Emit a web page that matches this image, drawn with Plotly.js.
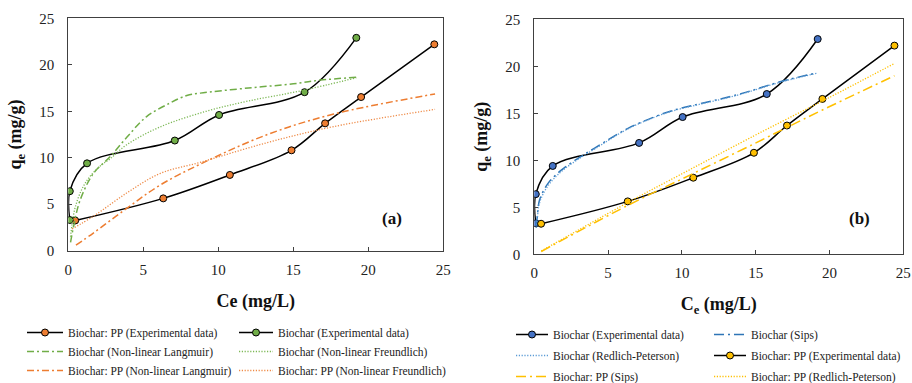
<!DOCTYPE html>
<html>
<head>
<meta charset="utf-8">
<script src="https://cdn.plot.ly/plotly-3.0.1.min.js"></script>
<style>html,body{margin:0;padding:0;background:#fff;}#chart{width:912px;height:383px;}</style>
</head>
<body>
<div id="chart"></div>
<script>
// Experimental data
const ceBiochar = [0.1, 0.1, 1.25, 7.1, 10.05, 15.75, 19.2];
const qeBiochar = [3.3, 6.4, 9.4, 11.85, 14.6, 17.05, 22.9];
const cePP = [0.46, 6.33, 10.77, 14.88, 17.12, 19.52, 24.4];
const qePP = [3.25, 5.63, 8.15, 10.8, 13.7, 16.53, 22.2];

// (a) Non-linear Langmuir / Freundlich
const ceBLang = [0.15, 0.35, 0.78, 1.67, 2.78, 3.9, 5.2, 6.8, 7.9, 8.8, 12, 15, 16.8, 19.2];
const qeBLang = [0.9, 2.6, 5.4, 8.3, 10.1, 12.2, 14.4, 15.9, 16.7, 16.95, 17.5, 17.95, 18.35, 18.65];
const ceBFreu = [0.15, 0.25, 0.45, 0.9, 1.45, 2.2, 2.8, 3.9, 6.1, 9.2, 12, 15.5, 19.2];
const qeBFreu = [1.5, 2.8, 4.6, 6.6, 8.0, 9.2, 9.9, 11.4, 13.3, 15.0, 16.1, 17.2, 18.6];
const cePPLang = [0.51, 1.67, 3.89, 6.11, 8.78, 13.2, 17.7, 24.45];
const qePPLang = [0.6, 1.9, 4.55, 7.05, 9.3, 12.45, 14.7, 16.86];
const cePPFreu = [0.25, 1.67, 3.89, 6.11, 8.78, 13.2, 17.7, 24.45];
const qePPFreu = [2.35, 3.7, 6.2, 8.3, 9.5, 11.6, 13.35, 15.2];

// (b) Sips / Redlich-Peterson
const ceBSips = [0.14, 0.2, 0.36, 0.93, 1.83, 2.96, 4.09, 6.35, 8.6, 9.6, 13.7, 16.65, 19.13];
const qeBSips = [3.0, 4.0, 5.8, 7.55, 8.95, 10.2, 11.3, 13.4, 14.9, 15.4, 16.95, 18.35, 19.3];
const ceBRP = [0.14, 0.2, 0.36, 0.93, 1.83, 2.96, 4.09, 6.35, 8.6, 9.6, 13.7, 16.65, 19.13];
const qeBRP = [2.8, 3.7, 5.5, 7.3, 8.8, 10.1, 11.2, 13.35, 14.85, 15.35, 16.9, 18.3, 19.25];
const cePPSips = [0.47, 6.33, 10.77, 14.88, 17.12, 19.52, 24.4];
const qePPSips = [0.3, 5.2, 8.6, 11.75, 13.5, 15.35, 19.0];
const cePPRP = [0.47, 6.33, 10.77, 14.88, 17.12, 19.52, 24.4];
const qePPRP = [0.35, 5.5, 9.2, 12.6, 14.4, 16.3, 20.3];

const axisTicks = [0, 5, 10, 15, 20, 25];

const GREEN = '#70AD47', ORANGE = '#ED7D31', BLUE = '#4472C4', YELLOW = '#FFC000';
const FONT = 'Liberation Serif';

function exp(x, y, color, name, xa, ya, lg) {
  return {x: x, y: y, name: name, mode: 'lines+markers', xaxis: xa, yaxis: ya, legend: lg,
    legendgroup: name + lg,
    line: {color: '#000', width: 1.5, shape: 'spline', smoothing: 1},
    marker: {color: color, size: 7, line: {color: '#000', width: 1}}};
}
function model(x, y, color, dash, w, name, xa, ya, lg) {
  return {x: x, y: y, name: name, mode: 'lines', xaxis: xa, yaxis: ya, legend: lg,
    legendgroup: name + lg,
    line: {color: color, width: w, dash: dash, shape: 'spline', smoothing: 1}};
}
const DASHDOT = '7px,3px,2px,3px';
const LONGDASHDOT = '10px,4px,2px,4px';
const DOT = '1.2px,1.6px';

const data = [
  exp(cePP, qePP, ORANGE, 'Biochar: PP (Experimental data)', 'x', 'y', 'legend'),
  exp(ceBiochar, qeBiochar, GREEN, 'Biochar (Experimental data)', 'x', 'y', 'legend2'),
  model(ceBLang, qeBLang, GREEN, DASHDOT, 1.5, 'Biochar (Non-linear Langmuir)', 'x', 'y', 'legend'),
  model(ceBFreu, qeBFreu, '#7DB856', DOT, 1.3, 'Biochar (Non-linear Freundlich)', 'x', 'y', 'legend2'),
  model(cePPLang, qePPLang, ORANGE, DASHDOT, 1.5, 'Biochar: PP (Non-linear Langmuir)', 'x', 'y', 'legend'),
  model(cePPFreu, qePPFreu, '#EE8A46', DOT, 1.3, 'Biochar: PP (Non-linear Freundlich)', 'x', 'y', 'legend2'),
  exp(ceBiochar, qeBiochar, BLUE, 'Biochar (Experimental data)', 'x2', 'y2', 'legend3'),
  model(ceBSips, qeBSips, '#2E75B6', LONGDASHDOT, 1.5, 'Biochar (Sips)', 'x2', 'y2', 'legend4'),
  model(ceBRP, qeBRP, '#5B9BD5', DOT, 1.3, 'Biochar (Redlich-Peterson)', 'x2', 'y2', 'legend3'),
  exp(cePP, qePP, YELLOW, 'Biochar: PP (Experimental data)', 'x2', 'y2', 'legend4'),
  model(cePPSips, qePPSips, YELLOW, LONGDASHDOT, 1.5, 'Biochar: PP (Sips)', 'x2', 'y2', 'legend3'),
  model(cePPRP, qePPRP, YELLOW, DOT, 1.3, 'Biochar: PP (Redlich-Peterson)', 'x2', 'y2', 'legend4')
];

function xax(domain, title, standoff) {
  return {domain: domain, range: [0, 25], tickvals: axisTicks, ticks: 'inside', ticklen: 4,
    tickcolor: '#404040', showline: true, mirror: true, linecolor: '#404040', linewidth: 1,
    showgrid: false, zeroline: false, automargin: false, ticklabelstandoff: 5,
    tickfont: {family: FONT, size: 15, color: '#222'},
    title: {text: title, standoff: standoff, font: {family: FONT, size: 18, color: '#111'}}};
}
function yax(domain, anchor, title) {
  return {domain: domain, anchor: anchor, range: [0, 25], tickvals: axisTicks, ticks: 'inside', ticklen: 4,
    tickcolor: '#404040', showline: true, mirror: true, linecolor: '#404040', linewidth: 1,
    showgrid: false, zeroline: false, automargin: false, ticklabelstandoff: 10,
    tickfont: {family: FONT, size: 15, color: '#222'},
    title: {text: title, standoff: 12, font: {family: FONT, size: 18, color: '#111'}}};
}
function leg(x, y, iw, gap) {
  return {x: x, y: y, xanchor: 'left', yanchor: 'top', orientation: 'v', itemwidth: iw,
    bgcolor: 'rgba(0,0,0,0)', borderwidth: 0, tracegroupgap: gap, itemclick: false,
    font: {family: FONT, size: 11.5, color: '#222'}};
}

const layout = {
  width: 912, height: 383,
  margin: {l: 0, r: 0, t: 0, b: 0, autoexpand: false},
  paper_bgcolor: '#fff', plot_bgcolor: '#fff',
  font: {family: FONT},
  xaxis: Object.assign(xax([68.3/912, 443.3/912], '<b>Ce (mg/L)</b>', 17), {anchor: 'y'}),
  yaxis: yax([1 - 250.7/383, 1 - 18.3/383], 'x', '<b>q<sub>e</sub> (mg/g)</b>'),
  xaxis2: Object.assign(xax([534.3/912, 903.3/912], '<b>C<sub>e</sub> (mg/L)</b>', 17), {anchor: 'y2'}),
  yaxis2: yax([1 - 254.3/383, 1 - 19.3/383], 'x2', '<b>q<sub>e</sub> (mg/g)</b>'),
  showlegend: true,
  legend: leg(22/912, 1 - 318/383, 36, 0),
  legend2: leg(234/912, 1 - 318/383, 34, 0),
  legend3: leg(511/912, 1 - 320/383, 32, 2),
  legend4: leg(709/912, 1 - 320/383, 32, 2),
  annotations: [
    {text: '<b>(a)</b>', x: 21.6, y: 3.5, xref: 'x', yref: 'y', showarrow: false,
     font: {family: FONT, size: 17, color: '#111'}},
    {text: '<b>(b)</b>', x: 22.0, y: 3.8, xref: 'x2', yref: 'y2', showarrow: false,
     font: {family: FONT, size: 17, color: '#111'}}
  ]
};

Plotly.newPlot('chart', data, layout, {displayModeBar: false, staticPlot: true});
</script>
</body>
</html>
